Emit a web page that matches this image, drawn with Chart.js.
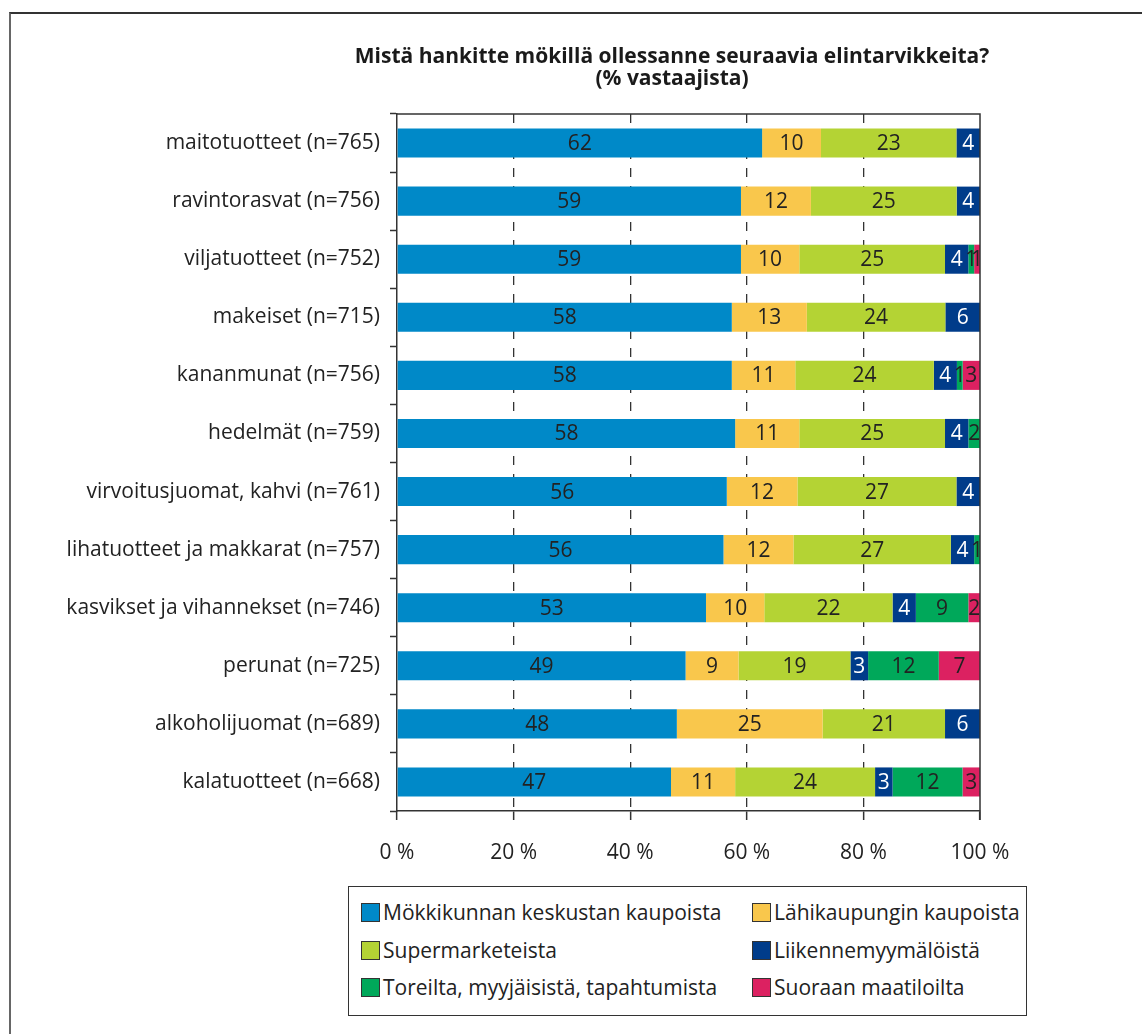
<!DOCTYPE html>
<html><head><meta charset="utf-8">
<script src="https://cdn.jsdelivr.net/npm/chart.js@4.4.0/dist/chart.umd.min.js"></script>
<style>
html,body{margin:0;padding:0;width:1142px;height:1034px;overflow:hidden;background:#fff;}
#frame{position:absolute;left:9px;top:12px;width:1300px;height:1100px;border-left:2px solid #666;border-top:2px solid #333;box-sizing:border-box;}
#wrap{position:absolute;left:0;top:0;width:1344px;height:1034px;}
#legend{position:absolute;left:348px;top:886px;width:679px;height:130px;border:1.5px solid #333;box-sizing:border-box;background:#fff;font-family:'Open Sans',sans-serif;}
.item{position:absolute;display:flex;align-items:center;font-size:21px;color:#222;white-space:nowrap;line-height:22px;}
.sw{width:17px;height:17px;border:1px solid #333;margin-right:3px;flex:none;}
</style></head>
<body>
<div id="frame"></div>
<div id="wrap"><canvas id="c" width="1344" height="1034"></canvas></div>
<div id="legend"></div>
<script>
const categories = ['maitotuotteet (n=765)','ravintorasvat (n=756)','viljatuotteet (n=752)','makeiset (n=715)','kananmunat (n=756)','hedelmät (n=759)','virvoitusjuomat, kahvi (n=761)','lihatuotteet ja makkarat (n=757)','kasvikset ja vihannekset (n=746)','perunat (n=725)','alkoholijuomat (n=689)','kalatuotteet (n=668)'];
const seriesNames = ['Mökkikunnan keskustan kaupoista','Lähikaupungin kaupoista','Supermarketeista','Liikennemyymälöistä','Toreilta, myyjäisistä, tapahtumista','Suoraan maatiloilta'];
const keskusta     = [62,59,59,58,58,58,56,56,53,49,48,47];
const lahikaupunki = [10,12,10,13,11,11,12,12,10,9,25,11];
const supermarket  = [23,25,25,24,24,25,27,27,22,19,21,24];
const liikenne     = [4,4,4,6,4,4,4,4,4,3,6,3];
const torit        = [0,0,1,0,1,2,0,1,9,12,0,12];
const maatilat     = [0,0,1,0,3,0,0,0,2,7,0,3];
const xTickLabels  = ['0 %','20 %','40 %','60 %','80 %','100 %'];
const titleLines   = ['Mistä hankitte mökillä ollessanne seuraavia elintarvikkeita?','(% vastaajista)'];

const colors = ['#0089C8','#F9C74C','#B4D334','#003C8A','#00A85A','#DC2161'];
const labelColors = ['#222','#222','#222','#fff','#222','#222'];
const series = [keskusta,lahikaupunki,supermarket,liikenne,torit,maatilat];
const FONT = "'Open Sans', sans-serif";
Chart.defaults.font.family = FONT;
Chart.defaults.color = '#222';

const rowSums = categories.map((_, i) => series.reduce((s, arr) => s + arr[i], 0));
const datasets = series.map((arr, k) => ({
  label: seriesNames[k],
  data: arr.map((v, i) => v / rowSums[i] * 100),
  raw: arr,
  backgroundColor: colors[k],
  borderWidth: 0,
  barPercentage: 0.5,
  categoryPercentage: 1
}));

const labelPlugin = {
  id: 'segLabels',
  afterDatasetsDraw(chart) {
    const ctx = chart.ctx;
    ctx.save();
    ctx.font = "21px " + FONT;
    ctx.textAlign = 'center';
    ctx.textBaseline = 'middle';
    chart.data.datasets.forEach((ds, k) => {
      const meta = chart.getDatasetMeta(k);
      meta.data.forEach((bar, i) => {
        const v = ds.raw[i];
        if (!v) return;
        ctx.fillStyle = labelColors[k];
        ctx.fillText(String(v), (bar.x + bar.base) / 2, bar.y + 1);
      });
    });
    const a = chart.chartArea;
    ctx.strokeStyle = '#333';
    ctx.lineWidth = 1.5;
    ctx.beginPath();
    ctx.moveTo(a.left, a.top);
    ctx.lineTo(a.right, a.top);
    ctx.lineTo(a.right, a.bottom + 9);
    ctx.stroke();
    ctx.restore();
  }
};

new Chart(document.getElementById('c'), {
  type: 'bar',
  data: { labels: categories, datasets },
  options: {
    responsive: false,
    animation: false,
    indexAxis: 'y',
    layout: { padding: { left: 0, right: 0, top: 0, bottom: 163 } },
    plugins: {
      legend: { display: false },
      tooltip: { enabled: false },
      title: {
        display: true,
        text: titleLines,
        color: '#1a1a1a',
        font: { size: 21, weight: 'bold', lineHeight: 22/21 },
        padding: { top: 46, bottom: 24 }
      }
    },
    scales: {
      x: {
        stacked: true, min: 0, max: 100,
        afterFit(s) { s.height = 60; },
        ticks: { stepSize: 20, padding: 20, color: '#222', font: { size: 21 },
          callback: (v, i) => xTickLabels[i] },
        grid: {
          color: c => (c.index === 0 || c.index === 5) ? 'rgba(0,0,0,0)' : '#333',
          lineWidth: 1.3, tickColor: '#333', tickLength: 9, tickWidth: 1.5
        },
        border: { display: true, color: '#333', width: 1.5, dash: [9, 9] }
      },
      y: {
        stacked: true,
        afterFit(s) { s.width = 397; },
        ticks: { padding: 10, color: '#222', font: { size: 21 } },
        grid: { offset: true, drawOnChartArea: false, drawTicks: true, tickLength: 7, tickColor: '#333', tickWidth: 1.5, color: '#333' },
        border: { display: true, color: '#333', width: 1.5 }
      },
      yRight: {
        type: 'category',
        position: 'right',
        afterFit(s) { s.width = 364; },
        ticks: { display: false },
        grid: { display: false },
        border: { display: false }
      }
    }
  },
  plugins: [labelPlugin]
});

const leg = document.getElementById('legend');
const colX = [12, 403];
const rowY = [14, 52, 89];
seriesNames.forEach((name, k) => {
  const d = document.createElement('div');
  d.className = 'item';
  d.style.left = colX[k % 2] + 'px';
  d.style.top = rowY[Math.floor(k / 2)] + 'px';
  d.innerHTML = '<span class="sw" style="background:' + colors[k] + '"></span><span>' + name + '</span>';
  leg.appendChild(d);
});
</script>
</body></html>
